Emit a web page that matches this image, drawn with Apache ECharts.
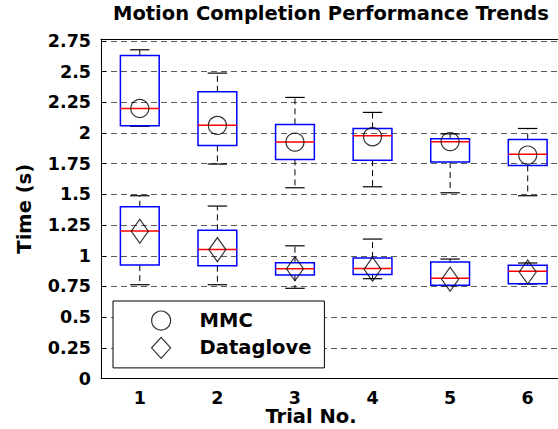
<!DOCTYPE html>
<html>
<head>
<meta charset="utf-8">
<script src="https://cdn.jsdelivr.net/npm/echarts@6/dist/echarts.min.js"></script>
<style>
  html, body { margin: 0; padding: 0; background: #fff; }
  #chart { width: 558px; height: 429px; }
</style>
</head>
<body>
<div id="chart"></div>
<script>
// Trial numbers on the x axis
const trials = ['1', '2', '3', '4', '5', '6'];

// MMC box statistics per trial (seconds)
const mmcMin    = [2.055, 1.747, 1.554, 1.562, 1.513, 1.489];
const mmcQ1     = [2.059, 1.899, 1.785, 1.779, 1.763, 1.736];
const mmcMedian = [2.200, 2.064, 1.926, 1.977, 1.928, 1.828];
const mmcQ3     = [2.632, 2.336, 2.070, 2.037, 1.953, 1.948];
const mmcMax    = [2.678, 2.488, 2.290, 2.168, 1.993, 2.037];
const mmcMean   = [2.200, 2.062, 1.926, 1.969, 1.930, 1.820];

// Dataglove box statistics per trial (seconds)
const gloveMin    = [0.764, 0.764, 0.735, 0.813, 0.756, 0.770];
const gloveQ1     = [0.924, 0.919, 0.843, 0.848, 0.759, 0.772];
const gloveMedian = [1.201, 1.052, 0.894, 0.897, 0.816, 0.873];
const gloveQ3     = [1.399, 1.207, 0.943, 0.981, 0.949, 0.922];
const gloveMax    = [1.489, 1.405, 1.081, 1.136, 0.973, 0.941];
const gloveMean   = [1.200, 1.050, 0.894, 0.890, 0.808, 0.867];

// Y axis ticks
const yMin = 0;
const yMax = 2.766;
const yStep = 0.25;

const FONT = 'DejaVu Sans';

function boxRows(mins, q1s, meds, q3s, maxs) {
  return trials.map((t, i) => [i, mins[i], q1s[i], meds[i], q3s[i], maxs[i]]);
}

// Box with dashed whiskers, solid caps, blue box and red median
function renderBox(params, api) {
  const idx = api.value(0);
  const band = api.size([1, 0])[0];
  const half = band * 0.25;
  const capHalf = band * 0.125;
  const pMin = api.coord([idx, api.value(1)]);
  const pQ1 = api.coord([idx, api.value(2)]);
  const pMed = api.coord([idx, api.value(3)]);
  const pQ3 = api.coord([idx, api.value(4)]);
  const pMax = api.coord([idx, api.value(5)]);
  const cx = pMed[0];
  const whisker = { stroke: '#000', lineWidth: 1, lineDash: [6, 4] };
  const cap = { stroke: '#000', lineWidth: 1.2 };
  return {
    type: 'group',
    children: [
      { type: 'line', shape: { x1: cx, y1: pQ3[1], x2: cx, y2: pMax[1] }, style: whisker },
      { type: 'line', shape: { x1: cx, y1: pQ1[1], x2: cx, y2: pMin[1] }, style: whisker },
      { type: 'line', shape: { x1: cx - capHalf, y1: pMax[1], x2: cx + capHalf, y2: pMax[1] }, style: cap },
      { type: 'line', shape: { x1: cx - capHalf, y1: pMin[1], x2: cx + capHalf, y2: pMin[1] }, style: cap },
      { type: 'rect', shape: { x: cx - half, y: pQ3[1], width: half * 2, height: pQ1[1] - pQ3[1] },
        style: { fill: 'none', stroke: '#0000ff', lineWidth: 1.5 } },
      { type: 'line', shape: { x1: cx - half, y1: pMed[1], x2: cx + half, y2: pMed[1] },
        style: { stroke: '#ff0000', lineWidth: 1.5 } }
    ]
  };
}

const chart = echarts.init(document.getElementById('chart'), null, { renderer: 'svg' });

chart.setOption({
  backgroundColor: '#fff',
  animation: false,
  title: {
    text: 'Motion Completion Performance Trends',
    left: 113,
    top: 3,
    padding: 0,
    textStyle: { fontFamily: FONT, fontSize: 19.5, fontWeight: 'bold', color: '#000' }
  },
  grid: {
    left: 101,
    top: 39,
    width: 465.5,
    bottom: 50.5,
    containLabel: false,
    outerBoundsMode: 'none'
  },
  legend: {
    data: ['MMC', 'Dataglove'],
    orient: 'vertical',
    left: 113,
    top: 301,
    padding: [9.5, 13, 9, 38],
    itemWidth: 19,
    itemHeight: 21,
    itemGap: 6,
    backgroundColor: '#fff',
    borderColor: '#000',
    borderWidth: 1,
    borderRadius: 0,
    itemStyle: { color: 'rgba(0,0,0,0)', borderColor: '#000', borderWidth: 1.2 },
    textStyle: { fontFamily: FONT, fontSize: 19.5, fontWeight: 'bold', color: '#000', padding: [0, 0, 0, 24] }
  },
  xAxis: [
    {
      type: 'category',
      data: trials,
      boundaryGap: true,
      axisLine: { lineStyle: { color: '#000', width: 1 } },
      axisTick: { inside: true, alignWithLabel: true, length: 5, lineStyle: { color: '#000' } },
      axisLabel: { margin: 10, fontFamily: FONT, fontSize: 17.5, fontWeight: 'bold', color: '#000' },
      splitLine: { show: false }
    },
    {
      type: 'category',
      data: trials,
      position: 'top',
      boundaryGap: true,
      axisLine: { lineStyle: { color: '#000', width: 1 } },
      axisTick: { inside: true, alignWithLabel: true, length: 5, lineStyle: { color: '#000' } },
      axisLabel: { show: false },
      splitLine: { show: false }
    }
  ],
  yAxis: {
    type: 'value',
    min: yMin,
    max: yMax,
    interval: yStep,
    name: 'Time (s)',
    nameLocation: 'middle',
    nameRotate: 90,
    nameGap: 67,
    nameTextStyle: { fontFamily: FONT, fontSize: 19.5, fontWeight: 'bold', color: '#000' },
    axisLine: { show: true, lineStyle: { color: '#000', width: 1 } },
    axisTick: { show: true, inside: true, length: 5, lineStyle: { color: '#000' } },
    axisLabel: { margin: 10, fontFamily: FONT, fontSize: 17.5, fontWeight: 'bold', color: '#000', showMaxLabel: false },
    splitLine: { show: true, lineStyle: { color: '#5a5a5a', width: 1, type: [6, 4] } }
  },
  graphic: [
    {
      type: 'text',
      x: 311,
      y: 416,
      style: {
        text: 'Trial No.',
        font: 'bold 19.5px "DejaVu Sans"',
        fill: '#000',
        align: 'center',
        verticalAlign: 'middle'
      }
    }
  ],
  series: [
    {
      type: 'custom',
      name: 'MMC box',
      renderItem: renderBox,
      encode: { x: 0, y: [1, 2, 3, 4, 5] },
      data: boxRows(mmcMin, mmcQ1, mmcMedian, mmcQ3, mmcMax),
      z: 2
    },
    {
      type: 'custom',
      name: 'Dataglove box',
      renderItem: renderBox,
      encode: { x: 0, y: [1, 2, 3, 4, 5] },
      data: boxRows(gloveMin, gloveQ1, gloveMedian, gloveQ3, gloveMax),
      z: 2
    },
    {
      type: 'scatter',
      name: 'MMC',
      symbol: 'circle',
      symbolSize: 18,
      itemStyle: { color: 'rgba(0,0,0,0)', borderColor: '#000', borderWidth: 1.2 },
      data: mmcMean,
      z: 3
    },
    {
      type: 'scatter',
      name: 'Dataglove',
      symbol: 'diamond',
      symbolSize: [17, 24],
      itemStyle: { color: 'rgba(0,0,0,0)', borderColor: '#000', borderWidth: 1.2 },
      data: gloveMean,
      z: 3
    }
  ]
});
</script>
</body>
</html>
